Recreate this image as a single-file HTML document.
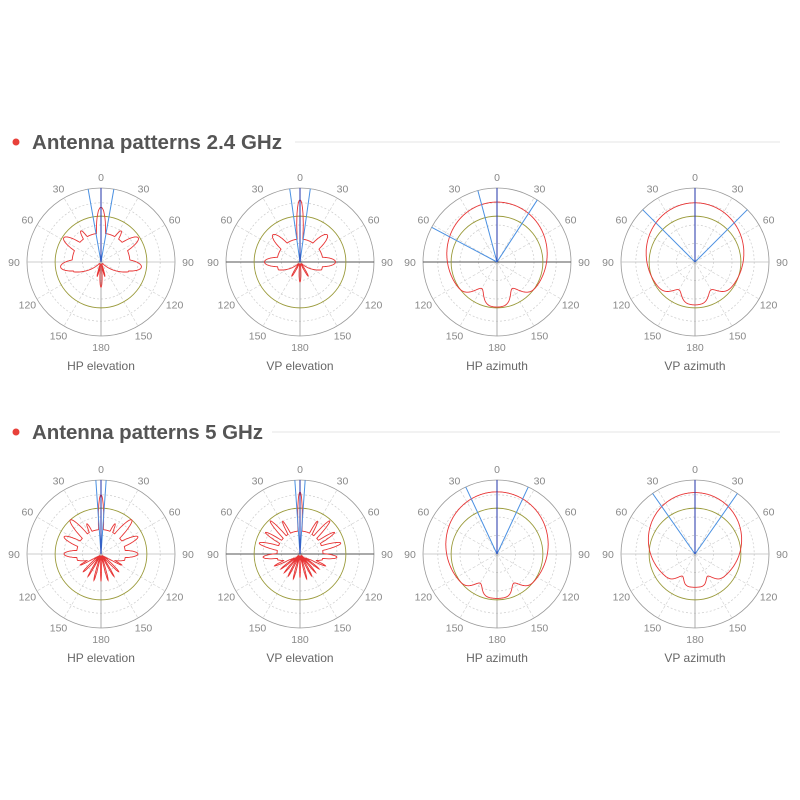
<!DOCTYPE html>
<html><head><meta charset="utf-8"><style>
body{margin:0;background:#fff;width:800px;height:800px;overflow:hidden}
svg{display:block}
</style></head><body>
<svg id="s" width="800" height="800" xmlns="http://www.w3.org/2000/svg" font-family="Liberation Sans, sans-serif">
<circle cx="16" cy="142" r="3.5" fill="#e8403a"/>
<text x="32" y="149" font-size="20.5" font-weight="bold" fill="#555" textLength="250">Antenna patterns 2.4 GHz</text>
<line x1="295" y1="142" x2="780" y2="142" stroke="#eee" stroke-width="1.5"/>
<circle cx="16" cy="432" r="3.5" fill="#e8403a"/>
<text x="32" y="439" font-size="20.5" font-weight="bold" fill="#555" textLength="231">Antenna patterns 5 GHz</text>
<line x1="272" y1="432" x2="780" y2="432" stroke="#eee" stroke-width="1.5"/>
<g id="g"></g>
</svg>
<script>
var NS="http://www.w3.org/2000/svg",G=document.getElementById('g'),R=74;
function el(t,a,txt){var e=document.createElementNS(NS,t);for(var k in a)e.setAttribute(k,a[k]);if(txt!==undefined)e.textContent=txt;G.appendChild(e);return e;}
function wrap(t){return Math.abs(((t+540)%360)-180);}
function lobes(L,envA,envCut){return function(t){var at=wrap(t);var r=envA*(at<envCut?1:Math.max(0,1-(at-envCut)/25))+0.03;L.forEach(function(l){var d=at-l[0];r=Math.max(r,l[1]*Math.exp(-(d/l[2])*(d/l[2])));});return r;}}
function az(a,b,c,dip,dd){return function(t){var q=t*Math.PI/180;var r=a+b*Math.cos(q)+c*Math.cos(2*q);var at=wrap(t);r-=dip*Math.exp(-Math.pow((at-150)/dd,2));return r;}}
function chart(cx,cy,f,blue,name,axes){
 [0.25,0.5,0.8].forEach(function(k){el('circle',{cx:cx,cy:cy,r:R*k,fill:'none',stroke:'#ccc','stroke-width':0.7,'stroke-dasharray':'2,2'});});
 el('circle',{cx:cx,cy:cy,r:R,fill:'none',stroke:'#999','stroke-width':0.8});
 for(var a=30;a<360;a+=30){if(a%90==0)continue;var q=a*Math.PI/180;el('line',{x1:cx,y1:cy,x2:cx+R*Math.sin(q),y2:cy-R*Math.cos(q),stroke:'#ccc','stroke-width':0.6,'stroke-dasharray':'3,2'});}
 el('line',{x1:cx-R,y1:cy,x2:cx+R,y2:cy,stroke:axes?'#555':'#bbb','stroke-width':axes?1:0.7});
 el('line',{x1:cx,y1:cy-R,x2:cx,y2:cy+R,stroke:'#999','stroke-width':0.8});
 el('circle',{cx:cx,cy:cy,r:R*0.62,fill:'none',stroke:'#9a9a3a','stroke-width':0.9});
 var d='';for(var t=-180;t<=180;t+=0.5){var r=f(t)*R,q=t*Math.PI/180;d+=(t==-180?'M':'L')+(cx+r*Math.sin(q)).toFixed(1)+','+(cy-r*Math.cos(q)).toFixed(1);}
 el('path',{d:d+'Z',fill:'none',stroke:'#e83535','stroke-width':0.9});
 blue.forEach(function(b){var q=b*Math.PI/180;el('line',{x1:cx,y1:cy,x2:cx+R*Math.sin(q),y2:cy-R*Math.cos(q),stroke:'#4a90e2','stroke-width':1});});
 el('line',{x1:cx,y1:cy,x2:cx,y2:cy-R,stroke:'#2233aa','stroke-width':1});
 var labs=[[0,'0'],[30,'30'],[-30,'30'],[60,'60'],[-60,'60'],[90,'90'],[-90,'90'],[120,'120'],[-120,'120'],[150,'150'],[-150,'150'],[180,'180']];
 labs.forEach(function(l){var q=l[0]*Math.PI/180,rr=R+(Math.abs(l[0])==90?13:11);el('text',{x:cx+rr*Math.sin(q),y:cy-rr*Math.cos(q)+4,'font-size':10.5,fill:'#888','text-anchor':'middle'},l[1]);});
 el('text',{x:cx,y:cy+R+34,'font-size':12,fill:'#666','text-anchor':'middle'},name);
}
var X=[101,300,497,695],Y1=262,Y2=554;
chart(X[0],Y1,lobes([[0,.74,11],[33,.5,9],[57,.6,15],[97,.55,19],[180,.34,6],[165,.2,4]],.36,110),[-10,10],'HP elevation');
chart(X[1],Y1,lobes([[0,.84,7],[45,.52,15],[90,.48,18],[180,.27,6],[150,.22,5]],.28,110),[-8,8],'VP elevation',true);
chart(X[2],Y1,az(.69,.1,.02,.2,12),[-15,33,-62],'HP azimuth',true);
chart(X[3],Y1,az(.67,.11,.02,.15,12),[-45,45],'VP azimuth');
chart(X[0],Y2,lobes([[0,.8,6],[25,.45,6],[42,.62,10],[65,.55,10],[90,.5,13],[118,.32,4],[135,.34,4],[150,.35,3],[165,.37,3],[180,.37,2]],.3,105),[-4,4],'HP elevation');
chart(X[1],Y2,lobes([[0,.84,5],[28,.5,5],[42,.6,6],[58,.55,6],[75,.57,8],[95,.5,9],[115,.38,4],[128,.33,3],[140,.33,3],[152,.34,3],[165,.35,3],[180,.32,2]],.28,105),[-4,4],'VP elevation',true);
chart(X[2],Y2,az(.7,.12,.02,.15,10),[-25,25],'HP azimuth');
chart(X[3],Y2,az(.62,.19,.02,.12,10),[-35,35],'VP azimuth');
</script>
</body></html>
